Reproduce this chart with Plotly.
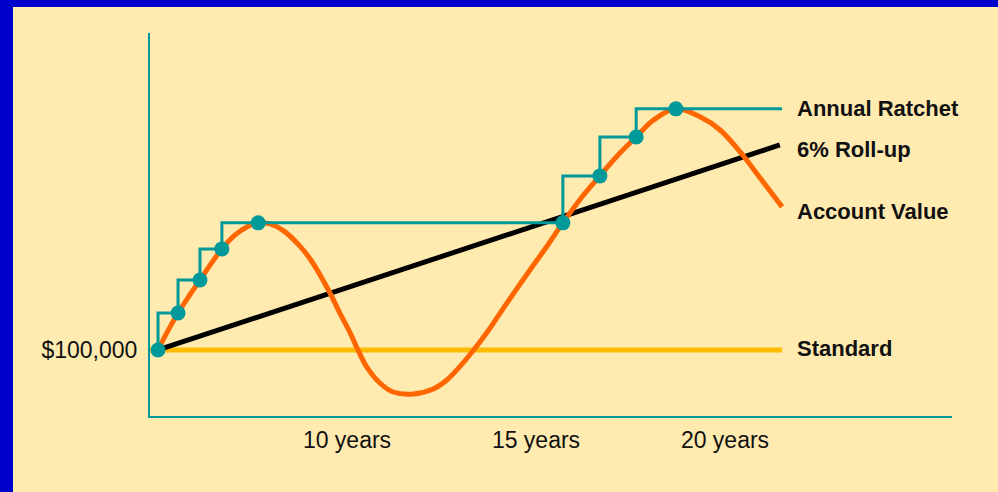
import plotly.graph_objects as go

# Years along the horizontal axis, values in $ thousands (100 = $100,000)
account_years = [5.00, 5.26, 5.53, 5.82, 6.11, 6.40, 6.69, 7.04, 7.35, 7.65, 7.96, 8.36,
                 8.76, 9.02, 9.29, 9.55, 9.81, 10.08, 10.29, 10.53, 10.87, 11.22, 11.75,
                 12.28, 12.65, 12.99, 13.33, 13.70, 14.05, 14.44, 14.84, 15.29, 15.71,
                 16.16, 16.69, 17.14, 17.65, 18.10, 18.70, 19.34, 19.87, 20.40, 20.93, 21.51]
account_values = [100.0, 109.3, 118.0, 126.3, 134.1, 142.0, 149.3, 156.1, 160.0, 162.0, 161.5, 157.6,
                  150.5, 144.5, 136.5, 127.8, 118.0, 108.5, 100.0, 91.5, 83.9, 79.5, 78.5,
                  81.0, 85.5, 92.0, 99.5, 108.5, 118.0, 128.5, 139.0, 150.6, 162.0,
                  173.3, 184.9, 194.5, 203.9, 212.0, 217.6, 213.7, 207.3, 196.6, 183.9, 169.8]

ratchet_years = [5.00, 5.53, 6.11, 6.69, 7.65, 15.71, 16.69, 17.65, 18.70, 21.51]
ratchet_values = [100.0, 118.0, 134.1, 149.3, 162.0, 162.0, 184.9, 203.9, 217.6, 217.6]

anniv_years = [5.00, 5.53, 6.11, 6.69, 7.65, 15.71, 16.69, 17.65, 18.70]
anniv_values = [100.0, 118.0, 134.1, 149.3, 162.0, 162.0, 184.9, 203.9, 217.6]

rollup_years = [5.00, 21.45]
rollup_values = [100.0, 200.0]

standard_years = [4.79, 21.51]
standard_values = [100.0, 100.0]

tick_years = [10, 15, 20]
tick_labels = ["10 years", "15 years", "20 years"]

series_labels = ["Annual Ratchet", "6% Roll-up", "Account Value", "Standard"]
label_values = [218.0, 197.6, 167.3, 100.5]
label_year = 21.85

BLUE = "#0000CC"
CREAM = "#FFEAB0"
TEAL = "#009999"
ORANGE = "#FF6600"
GOLD = "#FFBB00"
FONT = "Liberation Sans, Arial, sans-serif"

fig = go.Figure()

fig.add_trace(go.Scatter(x=standard_years, y=standard_values, mode="lines",
                         line=dict(color=GOLD, width=5), hoverinfo="skip"))
fig.add_trace(go.Scatter(x=rollup_years, y=rollup_values, mode="lines",
                         line=dict(color="#000000", width=5), hoverinfo="skip"))
fig.add_trace(go.Scatter(x=account_years, y=account_values, mode="lines",
                         line=dict(color=ORANGE, width=5, shape="spline", smoothing=1.0),
                         hoverinfo="skip"))
fig.add_trace(go.Scatter(x=ratchet_years, y=ratchet_values, mode="lines",
                         line=dict(color=TEAL, width=3, shape="vh"), hoverinfo="skip"))
fig.add_trace(go.Scatter(x=anniv_years, y=anniv_values, mode="markers",
                         marker=dict(color=TEAL, size=15, line=dict(width=0)), hoverinfo="skip"))

for text, val in zip(series_labels, label_values):
    fig.add_annotation(x=label_year, y=val, xref="x", yref="y", text=f"<b>{text}</b>",
                       showarrow=False, xanchor="left", yanchor="middle",
                       font=dict(family=FONT, size=22, color="#111111"))

# frame strips along the left and top edges
fig.add_shape(type="rect", xref="paper", yref="paper", x0=-0.19, x1=-0.17082,
              y0=-0.2, y1=1.09, fillcolor=BLUE, line=dict(width=0), layer="below")
fig.add_shape(type="rect", xref="paper", yref="paper", x0=-0.19, x1=1.06,
              y0=1.06789, y1=1.09, fillcolor=BLUE, line=dict(width=0), layer="below")

fig.update_layout(
    width=998, height=492,
    margin=dict(l=150, r=46, t=33, b=76),
    paper_bgcolor=CREAM, plot_bgcolor=CREAM,
    showlegend=False,
    font=dict(family=FONT, size=23, color="#111111"),
    xaxis=dict(range=[4.788, 26.005], showgrid=False, zeroline=False,
               showline=True, linecolor=TEAL, linewidth=2,
               tickvals=tick_years, ticktext=tick_labels, ticks="",
               ticklabelstandoff=2, fixedrange=True),
    yaxis=dict(range=[67.8, 254.6], showgrid=False, zeroline=False,
               showline=True, linecolor=TEAL, linewidth=2,
               tickvals=[100], ticktext=["$100,000"], ticks="",
               ticklabelstandoff=6, fixedrange=True),
)

fig.write_html("out.html", config={"displayModeBar": False})
